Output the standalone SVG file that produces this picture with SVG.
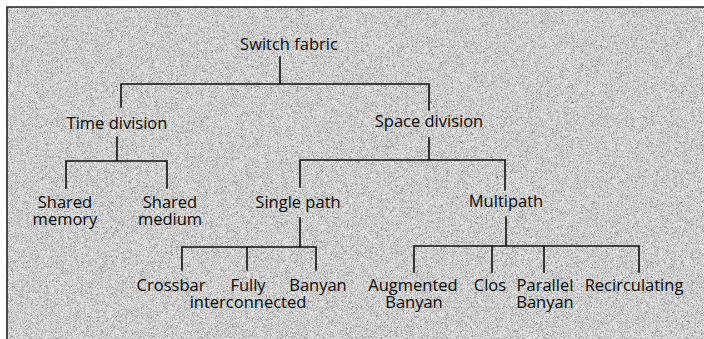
<svg xmlns="http://www.w3.org/2000/svg" width="704" height="339" viewBox="0 0 704 339">
  <defs>
    <filter id="grain" x="0" y="0" width="100%" height="100%">
      <feTurbulence type="fractalNoise" baseFrequency="1.8" numOctaves="1" seed="3" result="n"/>
      <feColorMatrix in="n" type="matrix" values="1.9 0 0 0 -0.25  1.9 0 0 0 -0.25  1.9 0 0 0 -0.25  0 0 0 0 1"/>
    </filter>
  </defs>
  <style>
    .lbl { font-family: "Open Sans", "Noto Sans", "Liberation Sans", sans-serif; font-size: 16.5px; fill: #0a0a0a; text-anchor: middle; }
    .ln { stroke: #111; stroke-width: 1.6; fill: none; stroke-linecap: square; }
  </style>
  <rect x="0" y="0" width="704" height="339" fill="#ffffff"/>
  <rect x="7" y="7" width="697" height="332" fill="#b4b4b4"/>
  <rect x="7" y="7" width="697" height="332" filter="url(#grain)" opacity="0.7"/>
  <path d="M7 339 V7 H704" stroke="#222" stroke-width="1.6" fill="none"/>

  <g id="connectors" class="ln">
    <path class="ln" d="M280 57 V84 M121 107 V84 H429 V110"/>
    <path class="ln" d="M117 137 V161 M66 188 V161 H167 V188"/>
    <path class="ln" d="M429 138 V160 M300 187 V160 H505 V190"/>
    <path class="ln" d="M300 218 V247 M182 270 V247 H316 V270 M247 247 V270"/>
    <path class="ln" d="M506 217 V246 M414 272 V246 H639 V272 M492 246 V272 M544 246 V272"/>
  </g>

  <g id="switch-fabric"><text class="lbl" x="289" y="50">Switch fabric</text></g>
  <g id="time-division"><text class="lbl" x="117" y="129">Time division</text></g>
  <g id="space-division"><text class="lbl" x="429" y="127">Space division</text></g>
  <g id="shared-memory"><text class="lbl" x="65" y="208">Shared</text><text class="lbl" x="65" y="225">memory</text></g>
  <g id="shared-medium"><text class="lbl" x="170" y="208">Shared</text><text class="lbl" x="170" y="225">medium</text></g>
  <g id="single-path"><text class="lbl" x="298" y="208">Single path</text></g>
  <g id="multipath"><text class="lbl" x="506" y="207">Multipath</text></g>
  <g id="crossbar"><text class="lbl" x="171" y="291">Crossbar</text></g>
  <g id="fully-interconnected"><text class="lbl" x="248" y="291">Fully</text><text class="lbl" x="248" y="308">interconnected</text></g>
  <g id="banyan"><text class="lbl" x="318" y="291">Banyan</text></g>
  <g id="augmented-banyan"><text class="lbl" x="413" y="291">Augmented</text><text class="lbl" x="414" y="308">Banyan</text></g>
  <g id="clos"><text class="lbl" x="490" y="291">Clos</text></g>
  <g id="parallel-banyan"><text class="lbl" x="545" y="291">Parallel</text><text class="lbl" x="545" y="308">Banyan</text></g>
  <g id="recirculating"><text class="lbl" x="634" y="291">Recirculating</text></g>
</svg>
